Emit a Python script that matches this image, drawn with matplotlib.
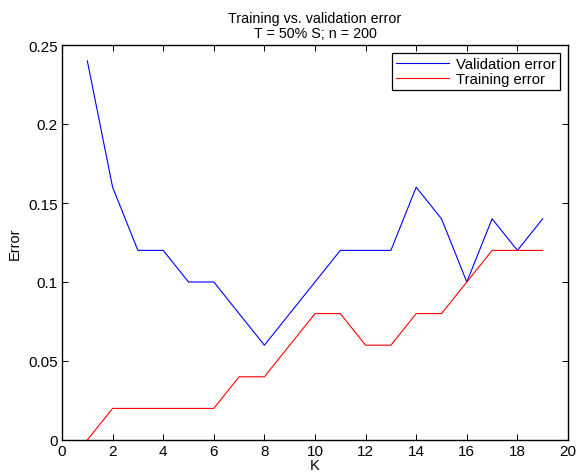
import matplotlib
matplotlib.use('Agg')
from matplotlib import pyplot as plt

plt.rcParams['font.family'] = ['Liberation Sans', 'DejaVu Sans']
plt.rcParams['font.size'] = 10.5

k_values = list(range(1, 20))
validation_error = [0.24, 0.16, 0.12, 0.12, 0.10, 0.10, 0.08, 0.06, 0.08, 0.10,
                    0.12, 0.12, 0.12, 0.16, 0.14, 0.10, 0.14, 0.12, 0.14]
training_error = [0.0, 0.02, 0.02, 0.02, 0.02, 0.02, 0.04, 0.04, 0.06, 0.08,
                  0.08, 0.06, 0.06, 0.08, 0.08, 0.10, 0.12, 0.12, 0.12]

fig = plt.figure(figsize=(5.78, 4.77), dpi=100)
ax = fig.add_axes([62 / 578, 36 / 477, 506 / 578, 395 / 477])

ax.plot(k_values, validation_error, color='b', linewidth=0.8, label='Validation error')
ax.plot(k_values, training_error, color='r', linewidth=0.8, label='Training error')

ax.set_xlim(0, 20)
ax.set_ylim(0, 0.25)
ax.set_xticks(range(0, 21, 2))
ax.set_yticks([0, 0.05, 0.1, 0.15, 0.2, 0.25])
ax.set_yticklabels(['0', '0.05', '0.1', '0.15', '0.2', '0.25'])
ax.tick_params(direction='in', top=True, right=True, length=4, width=0.7,
               pad=3, labelsize=11)
for s in ax.spines.values():
    s.set_linewidth(1.0)

ax.set_title('Training vs. validation error\nT = 50% S; n = 200', fontsize=10.3,
             linespacing=1.05, pad=6)
ax.set_xlabel('K', labelpad=0)
ax.set_ylabel('Error', labelpad=5)

leg = ax.legend(loc='upper right', fancybox=False, edgecolor='k', framealpha=1,
                borderaxespad=0.55, handlelength=3.6, handletextpad=0.45,
                borderpad=0.25, labelspacing=0.1, fontsize=10.7)
leg.get_frame().set_linewidth(0.9)

fig.savefig('out.png', dpi=100)
